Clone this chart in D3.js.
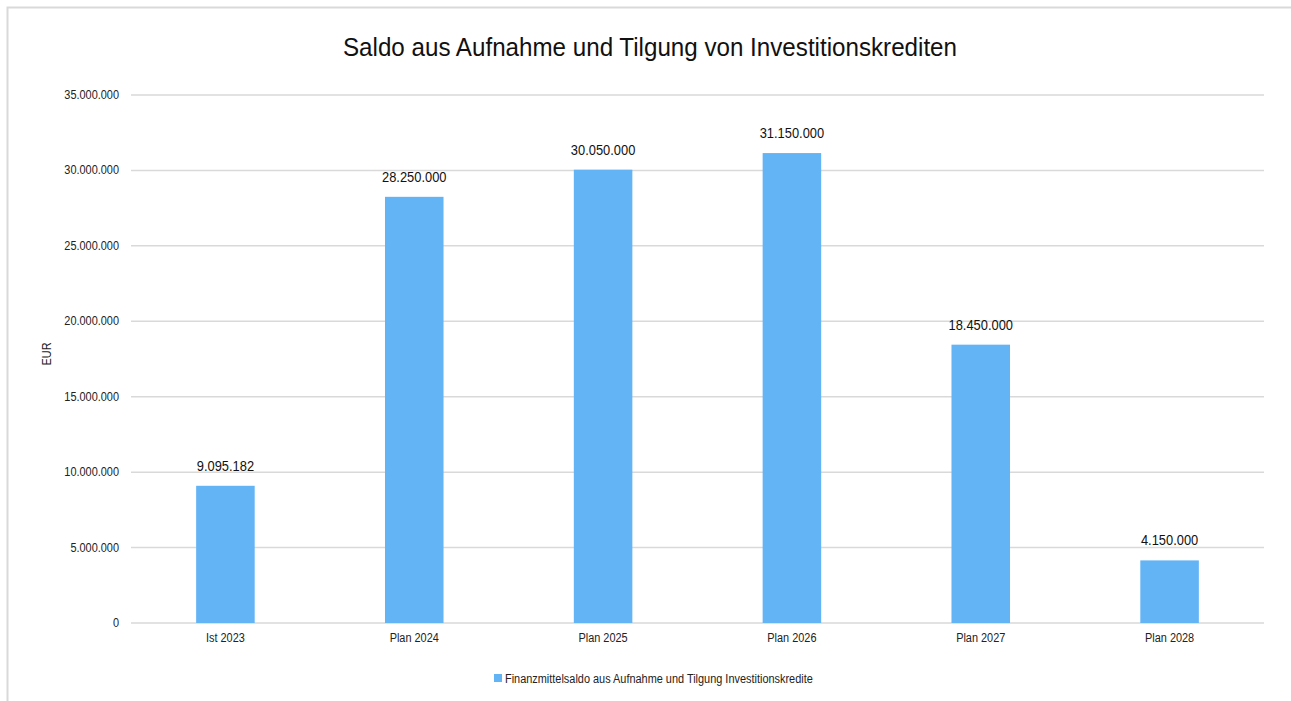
<!DOCTYPE html>
<html><head><meta charset="utf-8">
<script src="https://cdn.jsdelivr.net/npm/d3@7"></script>
<style>body{margin:0;background:#fff;font-family:"Liberation Sans",Arial,sans-serif;}</style>
</head><body><svg id="c" width="1291" height="701"></svg>
<script>
const categories = ["Ist 2023","Plan 2024","Plan 2025","Plan 2026","Plan 2027","Plan 2028"];
const values = [9095182, 28250000, 30050000, 31150000, 18450000, 4150000];
const yTicks = [0,5000000,10000000,15000000,20000000,25000000,30000000,35000000];
const seriesName = "Finanzmittelsaldo aus Aufnahme und Tilgung Investitionskredite";
const title = "Saldo aus Aufnahme und Tilgung von Investitionskrediten";

const svg = d3.select("#c");
const fmt = v => d3.format(",")(v).replace(/,/g,".");
const m = {l:131, r:1264, t:95, b:623};
const color = "#63b4f5";
const condense = (sel, k) => sel.each(function(){
  const len = this.getComputedTextLength();
  d3.select(this).attr("textLength", len*k).attr("lengthAdjust","spacingAndGlyphs");
});

// chart border
svg.append("path").attr("d","M7.5,701 L7.5,7.5 L1291,7.5").attr("fill","none").attr("stroke","#d9d9d9").attr("stroke-width",2);

const x = d3.scaleBand().domain(categories).range([m.l,m.r]).padding(0);
const y = d3.scaleLinear().domain([0,35000000]).range([m.b,m.t]);

svg.append("g").selectAll("line").data(yTicks).join("line")
  .attr("x1",m.l).attr("x2",m.r).attr("y1",d=>y(d)).attr("y2",d=>y(d))
  .attr("stroke","#d9d9d9").attr("stroke-width",1.5);

svg.append("g").selectAll("text").data(yTicks).join("text")
  .attr("x",119).attr("y",d=>y(d)+4).attr("text-anchor","end")
  .attr("font-size",12).attr("fill","#222").text(d=>fmt(d)).call(condense,0.91);

const bw = x.bandwidth()*0.31;
svg.append("g").selectAll("rect").data(values).join("rect")
  .attr("x",(d,i)=>x(categories[i])+x.bandwidth()/2-bw/2)
  .attr("width",bw).attr("y",d=>y(d)).attr("height",d=>y(0)-y(d)).attr("fill",color);

svg.append("g").selectAll("text").data(values).join("text")
  .attr("x",(d,i)=>x(categories[i])+x.bandwidth()/2).attr("y",d=>y(d)-15)
  .attr("text-anchor","middle").attr("font-size",14).attr("fill","#111").text(d=>fmt(d)).call(condense,0.92);

svg.append("g").selectAll("text").data(categories).join("text")
  .attr("x",d=>x(d)+x.bandwidth()/2).attr("y",642).attr("text-anchor","middle")
  .attr("font-size",12).attr("fill","#222").text(d=>d).call(condense,0.91);

svg.append("text").attr("x",650).attr("y",56).attr("text-anchor","middle")
  .attr("font-size",25).attr("fill","#111").attr("textLength",614).attr("lengthAdjust","spacingAndGlyphs").text(title);

svg.append("text").attr("transform","translate(51,354) rotate(-90)").attr("text-anchor","middle")
  .attr("font-size",12).attr("fill","#222").text("EUR").call(condense,0.91);

svg.append("rect").attr("x",494).attr("y",674).attr("width",8).attr("height",8).attr("fill",color);
svg.append("text").attr("x",505).attr("y",683).attr("font-size",12).attr("fill","#222").text(seriesName).call(condense,0.91);
</script></body></html>
